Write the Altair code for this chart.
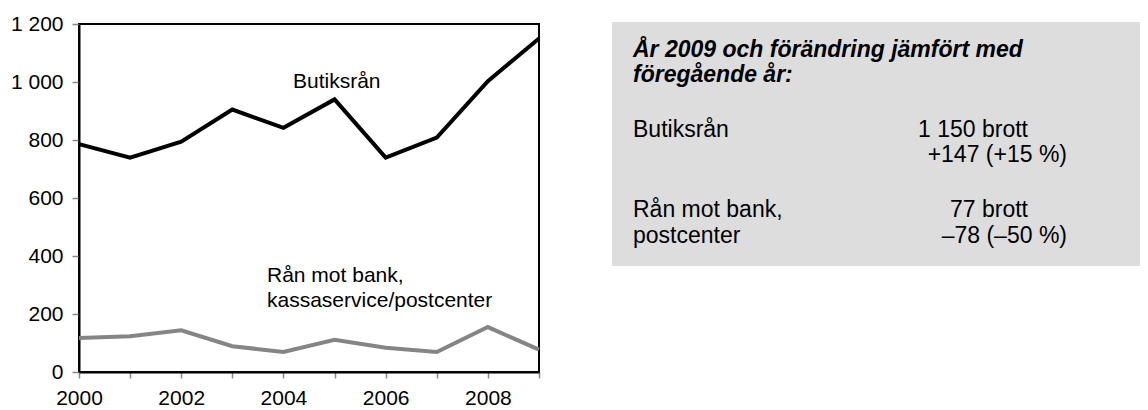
import altair as alt
import pandas as pd

years = [2000, 2001, 2002, 2003, 2004, 2005, 2006, 2007, 2008, 2009]
butik = [786, 739, 794, 905, 842, 940, 739, 808, 1003, 1150]
bank = [117, 123, 144, 89, 69, 111, 84, 69, 155, 77]
series_names = ["Butiksrån", "Rån mot bank"]
series_colors = ["#000000", "#858585"]

y_ticks = [0, 200, 400, 600, 800, 1000, 1200]
x_ticks = years

label_butik = "Butiksrån"
label_bank = ["Rån mot bank,", "kassaservice/postcenter"]
box_title = ["År 2009 och förändring jämfört med", "föregående år:"]
box_left = ["Butiksrån", "Rån mot bank,", "postcenter"]
box_right1 = ["1 150 brott", "77 brott"]
box_right2 = ["+147 (+15 %)", "–78 (–50 %)"]

df = pd.DataFrame({
    "year": years * 2,
    "value": butik + bank,
    "series": [series_names[0]] * len(years) + [series_names[1]] * len(years),
})

FONT = "Liberation Sans"
W, H = 460, 348
CS = 21

lines = alt.Chart(df).mark_line(strokeWidth=4, strokeJoin="miter").encode(
    x=alt.X("year:Q",
            scale=alt.Scale(domain=[2000, 2009], nice=False, zero=False),
            axis=alt.Axis(values=x_ticks, title=None, grid=False,
                          labelExpr="datum.value % 2 == 0 ? datum.label : ''",
                          format="d", tickColor="#888888", tickSize=6, tickWidth=1.5,
                          domainColor="#000000", domainWidth=2,
                          labelFontSize=CS, labelFont=FONT, labelColor="#000000",
                          labelPadding=9, labelFlush=False)),
    y=alt.Y("value:Q",
            scale=alt.Scale(domain=[0, 1200], nice=False),
            axis=alt.Axis(values=y_ticks, title=None, grid=False,
                          labelExpr="replace(format(datum.value, ','), ',', ' ')",
                          tickColor="#888888", tickSize=7, tickWidth=1.5,
                          domainColor="#000000", domainWidth=2,
                          labelFontSize=CS, labelFont=FONT, labelColor="#000000",
                          labelPadding=9)),
    color=alt.Color("series:N", scale=alt.Scale(domain=series_names, range=series_colors),
                    legend=None),
    detail="series:N",
)

one = alt.Data(values=[{}])


def txt(s, x, y, align="left", size=CS, weight="normal", style="normal"):
    return alt.Chart(one).mark_text(
        align=align, baseline="alphabetic", font=FONT, fontSize=size,
        fontWeight=weight, fontStyle=style, color="#000000"
    ).encode(x=alt.value(x), y=alt.value(y), text=alt.value(s))


box = alt.Chart(one).mark_rect(color="#dddddd").encode(
    x=alt.value(533), x2=alt.value(1061), y=alt.value(-2), y2=alt.value(242)
)

BS = 23
layers = [
    box,
    lines,
    txt(label_butik, 214, 64),
    txt(label_bank[0], 188, 258),
    txt(label_bank[1], 188, 283),
    txt(box_title[0], 554, 33, size=BS, weight="bold", style="italic"),
    txt(box_title[1], 554, 58, size=BS, weight="bold", style="italic"),
    txt(box_left[0], 554, 113, size=BS),
    txt(box_right1[0], 949, 113, align="right", size=BS),
    txt(box_right2[0], 988, 138, align="right", size=BS),
    txt(box_left[1], 554, 193, size=BS),
    txt(box_right1[1], 949, 193, align="right", size=BS),
    txt(box_left[2], 554, 219, size=BS),
    txt(box_right2[1], 988, 219, align="right", size=BS),
]

chart = alt.layer(*layers).properties(
    width=W, height=H,
    autosize=alt.AutoSizeParams(type="none"),
    padding={"left": 71, "top": 16, "right": 601, "bottom": 38},
    background="#ffffff",
).configure_view(stroke="#000000", strokeWidth=2)

chart.save("out.html", embed_options={"renderer": "svg", "actions": False})
